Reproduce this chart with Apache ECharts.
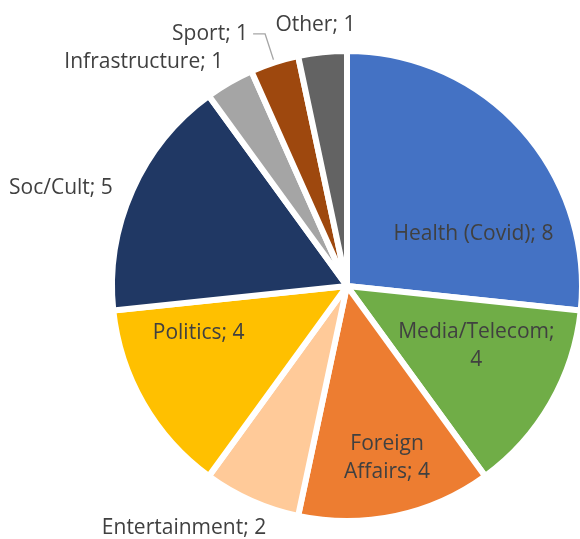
<!DOCTYPE html>
<html>
<head>
<meta charset="utf-8">
<script src="https://cdn.jsdelivr.net/npm/echarts@6/dist/echarts.min.js"></script>
<style>
  html, body { margin: 0; padding: 0; background: #ffffff; }
  #chart { width: 580px; height: 539px; }
</style>
</head>
<body>
<div id="chart"></div>
<script>
// Topics and the number of items in each
const categories = ['Health (Covid)', 'Media/Telecom', 'Foreign Affairs', 'Entertainment', 'Politics', 'Soc/Cult', 'Infrastructure', 'Sport', 'Other'];
const values = [8, 4, 4, 2, 4, 5, 1, 1, 1];
const colors = ['#4472C4', '#70AD47', '#ED7D31', '#FFCA99', '#FFC000', '#203864', '#A5A5A5', '#9E480E', '#636363'];

// Label text: some labels wrap onto a second line
const labelText = {
  'Media/Telecom': 'Media/Telecom;\n{v}',
  'Foreign Affairs': 'Foreign\nAffairs; {v}'
};
// Nudges applied to each label after the default placement
const labelShift = [[37, 29], [25, 0], [15, 54], [-114, 132], [-44, -13], [-176, -49], [-143, -120], [0, 0], [-19, -141]];

const chart = echarts.init(document.getElementById('chart'), null, { renderer: 'canvas' });

const data = categories.map((name, i) => {
  const item = { name: name, value: values[i], itemStyle: { color: colors[i] } };
  if (name === 'Sport') {
    item.label = { position: 'outside' };
    item.labelLine = { show: true, length: 30, length2: 12, smooth: false, lineStyle: { color: '#A6A6A6', width: 1.3 } };
  }
  return item;
});

chart.setOption({
  animation: false,
  backgroundColor: '#ffffff',
  series: [{
    type: 'pie',
    center: [347, 286],
    radius: [0, 235],
    startAngle: 90,
    clockwise: true,
    avoidLabelOverlap: false,
    itemStyle: { borderColor: '#ffffff', borderWidth: 6 },
    emphasis: { disabled: true },
    label: {
      show: true,
      position: 'inside',
      color: '#404040',
      fontFamily: 'Open Sans',
      fontSize: 21,
      lineHeight: 28,
      align: 'center',
      formatter: p => (labelText[p.name] || p.name + '; {v}').replace('{v}', p.value)
    },
    labelLine: { show: false },
    labelLayout: p => {
      const s = labelShift[p.dataIndex];
      return { dx: s[0], dy: s[1] };
    },
    data: data
  }]
});
</script>
</body>
</html>
